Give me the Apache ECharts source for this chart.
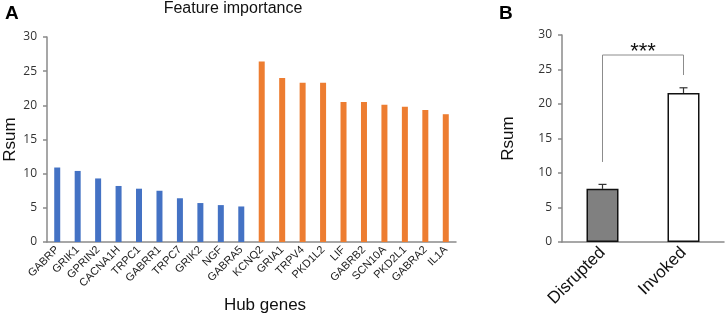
<!DOCTYPE html>
<html>
<head>
<meta charset="utf-8">
<script src="https://cdn.jsdelivr.net/npm/echarts@6/dist/echarts.min.js"></script>
<style>
  html, body { margin: 0; padding: 0; background: #fff; }
  #chart { width: 726px; height: 317px; }
</style>
</head>
<body>
<div id="chart"></div>
<script>
// Panel A: hub genes, two groups
const disruptedGenes = ['GABRP', 'GRIK1', 'GPRIN2', 'CACNA1H', 'TRPC1', 'GABRR1', 'TRPC7', 'GRIK2', 'NGF', 'GABRA5'];
const disruptedRsum = [10.9, 10.4, 9.3, 8.2, 7.8, 7.5, 6.4, 5.7, 5.4, 5.2];
const invokedGenes = ['KCNQ2', 'GRIA1', 'TRPV4', 'PKD1L2', 'LIF', 'GABRB2', 'SCN10A', 'PKD2L1', 'GABRA2', 'IL1A'];
const invokedRsum = [26.4, 24.0, 23.3, 23.3, 20.5, 20.5, 20.1, 19.8, 19.3, 18.7];

// Panel B: group means, error, significance bracket
const groups = ['Disrupted', 'Invoked'];
const groupMean = [7.7, 21.6];
const groupErr = [0.65, 0.75];
const bracket = [11.6, 24.2, 27.1]; // left leg bottom, right leg bottom, top
const yTicksMax = 30;

const BLUE = '#4472c4';
const ORANGE = '#ed7d31';
const AXIS = '#8a8a8a';
const FONT = 'Liberation Sans, Arial, sans-serif';

const genes = disruptedGenes.concat(invokedGenes);
const rsum = disruptedRsum.concat(invokedRsum);

const chart = echarts.init(document.getElementById('chart'));

const yAxisBase = {
  type: 'value',
  min: 0,
  max: yTicksMax,
  interval: 5,
  name: 'Rsum',
  nameLocation: 'middle',
  nameMoveOverlap: false,
  nameTextStyle: { fontSize: 17, color: '#111', fontFamily: FONT },
  axisLine: { show: true, lineStyle: { color: AXIS, width: 1.5 } },
  axisTick: { show: true, length: 4, lineStyle: { color: AXIS, width: 1.5 } },
  axisLabel: { color: '#333', fontSize: 12, fontFamily: 'Open Sans, sans-serif', margin: 10 },
  splitLine: { show: false },
};

chart.setOption({
  animation: false,
  graphic: [
    { type: 'text', left: 5, top: 4, style: { text: 'A', font: 'bold 19px ' + FONT, fill: '#000' } },
    { type: 'text', left: 499, top: 4, style: { text: 'B', font: 'bold 19px ' + FONT, fill: '#000' } },
    { type: 'text', x: 233, y: 9, style: { text: 'Feature importance', font: '16px ' + FONT, fill: '#111', align: 'center', verticalAlign: 'middle' } },
    { type: 'text', x: 265, y: 305, style: { text: 'Hub genes', font: '17px ' + FONT, fill: '#111', align: 'center', verticalAlign: 'middle' } },
  ],
  grid: [
    { left: 47, top: 37, width: 409, height: 205, outerBoundsMode: 'none' },
    { left: 562, top: 35, width: 162, height: 207, outerBoundsMode: 'none' },
  ],
  xAxis: [
    {
      gridIndex: 0,
      type: 'category',
      data: genes,
      axisLine: { lineStyle: { color: AXIS, width: 1.5 } },
      axisTick: { show: false },
      axisLabel: { rotate: 45, interval: 0, color: '#222', fontSize: 11, fontFamily: FONT, margin: 6 },
    },
    {
      gridIndex: 1,
      type: 'category',
      data: groups,
      axisLine: { lineStyle: { color: AXIS, width: 1.5 } },
      axisTick: { show: false },
      axisLabel: { rotate: 45, interval: 0, color: '#111', fontSize: 17, fontFamily: FONT, margin: 8 },
    },
  ],
  yAxis: [
    Object.assign({}, yAxisBase, { gridIndex: 0, nameGap: 28 }),
    Object.assign({}, yAxisBase, { gridIndex: 1, nameGap: 45 }),
  ],
  series: [
    {
      type: 'bar',
      xAxisIndex: 0,
      yAxisIndex: 0,
      barWidth: 6,
      data: rsum,
      itemStyle: {
        color: p => (p.dataIndex < disruptedGenes.length ? BLUE : ORANGE),
      },
    },
    {
      type: 'bar',
      xAxisIndex: 1,
      yAxisIndex: 1,
      barWidth: 32,
      data: groupMean.map((v, i) => ({
        value: v,
        itemStyle: { color: i === 0 ? '#808080' : '#ffffff', borderColor: '#111', borderWidth: 1.5 },
      })),
      z: 2,
    },
    {
      type: 'custom',
      xAxisIndex: 1,
      yAxisIndex: 1,
      data: groupMean.map((v, i) => [i, v, groupErr[i]]),
      z: 3,
      renderItem: (params, api) => {
        const base = api.coord([api.value(0), api.value(1)]);
        const top = api.coord([api.value(0), api.value(1) + api.value(2)]);
        const style = { stroke: '#333', lineWidth: 1.2 };
        return {
          type: 'group',
          children: [
            { type: 'line', shape: { x1: base[0], y1: base[1], x2: top[0], y2: top[1] }, style },
            { type: 'line', shape: { x1: top[0] - 4, y1: top[1], x2: top[0] + 4, y2: top[1] }, style },
          ],
        };
      },
    },
    {
      type: 'custom',
      xAxisIndex: 1,
      yAxisIndex: 1,
      data: [bracket],
      z: 3,
      renderItem: (params, api) => {
        const a = api.coord([0, api.value(0)]);
        const b = api.coord([1, api.value(1)]);
        const ta = api.coord([0, api.value(2)]);
        const tb = api.coord([1, api.value(2)]);
        return {
          type: 'group',
          children: [
            {
              type: 'polyline',
              shape: { points: [a, ta, tb, b] },
              style: { stroke: '#8c8c8c', lineWidth: 1, fill: null },
            },
            {
              type: 'text',
              style: {
                text: '***', x: (ta[0] + tb[0]) / 2, y: ta[1] - 3,
                font: '22px ' + FONT, fill: '#111', align: 'center', verticalAlign: 'middle',
              },
            },
          ],
        };
      },
    },
  ],
});
</script>
</body>
</html>
